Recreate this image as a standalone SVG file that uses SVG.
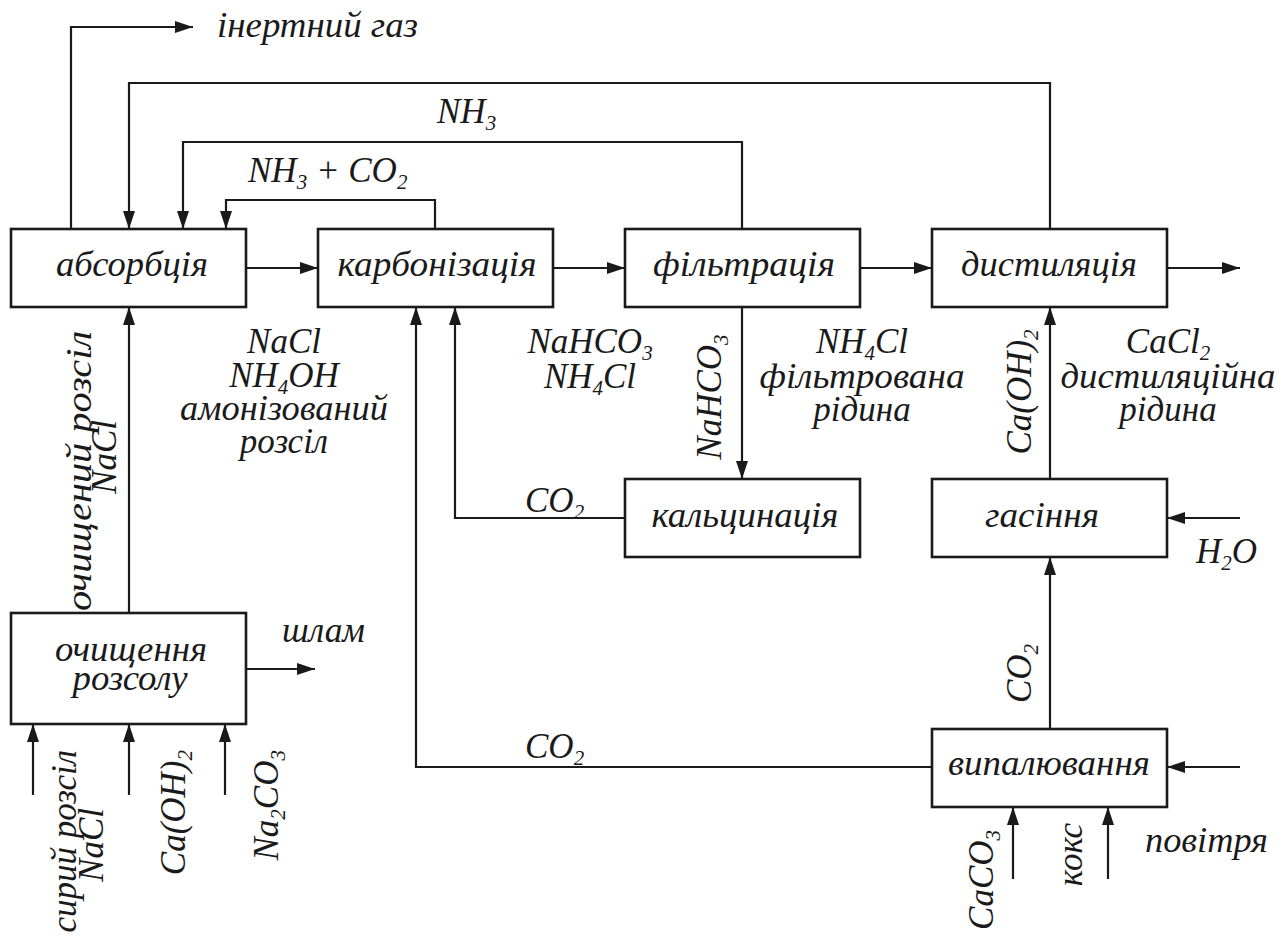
<svg xmlns="http://www.w3.org/2000/svg" width="1280" height="940" viewBox="0 0 1280 940">
<defs>
<style>
.box{fill:#fff;stroke:#1a1a1a;stroke-width:2.6}
.ln{fill:none;stroke:#1a1a1a;stroke-width:2.2}
.ar{marker-end:url(#ah)}
.m{text-anchor:middle}
.e{text-anchor:end}
.s{font-size:21px}
</style>
<marker id="ah" markerUnits="userSpaceOnUse" markerWidth="18" markerHeight="12" refX="18" refY="6" orient="auto" overflow="visible">
<path d="M0,0 L18,6 L0,12 Z" fill="#1a1a1a"/>
</marker>
</defs>
<rect width="1280" height="940" fill="#fff"/>

<g id="connectors">
<path class="ln ar" d="M71,229 V27 H193"/>
<path class="ln ar" d="M1050,229 V83 H129 V229"/>
<path class="ln ar" d="M742,229 V142 H183 V229"/>
<path class="ln ar" d="M435,229 V200 H226 V229"/>
<path class="ln ar" d="M246,268 H318"/>
<path class="ln ar" d="M553,268 H625"/>
<path class="ln ar" d="M860,268 H932"/>
<path class="ln ar" d="M1167,268 H1240"/>
<path class="ln ar" d="M129,613 V307"/>
<path class="ln ar" d="M932,767 H416 V307"/>
<path class="ln ar" d="M625,518 H455 V307"/>
<path class="ln ar" d="M742,307 V479"/>
<path class="ln ar" d="M1050,479 V307"/>
<path class="ln ar" d="M1240,518 H1167"/>
<path class="ln ar" d="M1050,729 V557"/>
<path class="ln ar" d="M1240,767 H1167"/>
<path class="ln ar" d="M1013,879 V807"/>
<path class="ln ar" d="M1108,879 V807"/>
<path class="ln ar" d="M246,669 H315"/>
<path class="ln ar" d="M33,795 V724"/>
<path class="ln ar" d="M129,795 V724"/>
<path class="ln ar" d="M225,795 V724"/>
</g>

<g id="labels" font-style="italic" font-size="35" fill="#1a1a1a">
<text font-family="Liberation Serif" font-style="italic" font-size="35" x="217" y="37" textLength="201" lengthAdjust="spacingAndGlyphs">інертний газ</text>
<text font-family="Liberation Serif" font-style="italic" font-size="35" x="437" y="123">NH<tspan class="s" dy="7">3</tspan></text>
<text font-family="Liberation Serif" font-style="italic" font-size="35" x="248" y="182">NH<tspan class="s" dy="7">3</tspan><tspan dy="-7"> + CO</tspan><tspan class="s" dy="7">2</tspan></text>
<text font-family="Liberation Serif" font-style="italic" font-size="35" class="m" x="284" y="353">NaCl</text>
<text font-family="Liberation Serif" font-style="italic" font-size="35" class="m" x="284" y="387">NH<tspan class="s" dy="7">4</tspan><tspan dy="-7">OH</tspan></text>
<text font-family="Liberation Serif" font-style="italic" font-size="35" class="m" x="284" y="420" textLength="208" lengthAdjust="spacingAndGlyphs">амонізований</text>
<text font-family="Liberation Serif" font-style="italic" font-size="35" class="m" x="284" y="453">розсіл</text>
<text font-family="Liberation Serif" font-style="italic" font-size="35" class="m" x="590" y="353">NaHCO<tspan class="s" dy="7">3</tspan></text>
<text font-family="Liberation Serif" font-style="italic" font-size="35" class="m" x="590" y="388">NH<tspan class="s" dy="7">4</tspan><tspan dy="-7">Cl</tspan></text>
<text font-family="Liberation Serif" font-style="italic" font-size="35" class="m" x="862" y="353">NH<tspan class="s" dy="7">4</tspan><tspan dy="-7">Cl</tspan></text>
<text font-family="Liberation Serif" font-style="italic" font-size="35" class="m" x="862" y="388" textLength="205" lengthAdjust="spacingAndGlyphs">фільтрована</text>
<text font-family="Liberation Serif" font-style="italic" font-size="35" class="m" x="862" y="421">рідина</text>
<text font-family="Liberation Serif" font-style="italic" font-size="35" class="m" x="1168" y="353">CaCl<tspan class="s" dy="7">2</tspan></text>
<text font-family="Liberation Serif" font-style="italic" font-size="35" class="m" x="1168" y="388" textLength="215" lengthAdjust="spacingAndGlyphs">дистиляційна</text>
<text font-family="Liberation Serif" font-style="italic" font-size="35" class="m" x="1168" y="421">рідина</text>
<text font-family="Liberation Serif" font-style="italic" font-size="35" x="525" y="512">CO<tspan class="s" dy="7">2</tspan></text>
<text font-family="Liberation Serif" font-style="italic" font-size="35" x="525" y="758">CO<tspan class="s" dy="7">2</tspan></text>
<text font-family="Liberation Serif" font-style="italic" font-size="35" x="282" y="642" textLength="83" lengthAdjust="spacingAndGlyphs">шлам</text>
<text font-family="Liberation Serif" font-style="italic" font-size="35" x="1196" y="563">H<tspan class="s" dy="7">2</tspan><tspan dy="-7">O</tspan></text>
<text font-family="Liberation Serif" font-style="italic" font-size="35" x="1145" y="852" textLength="123" lengthAdjust="spacingAndGlyphs">повітря</text>
<text font-family="Liberation Serif" font-style="italic" font-size="35" class="m" transform="translate(91,471) rotate(-90)" textLength="280" lengthAdjust="spacingAndGlyphs">очищений розсіл</text>
<text font-family="Liberation Serif" font-style="italic" font-size="35" class="m" transform="translate(116,457) rotate(-90)">NaCl</text>
<text font-family="Liberation Serif" font-style="italic" font-size="35" class="m" transform="translate(721,397) rotate(-90)">NaHCO<tspan class="s" dy="7">3</tspan></text>
<text font-family="Liberation Serif" font-style="italic" font-size="35" class="m" transform="translate(1031,392) rotate(-90)">Ca(OH)<tspan class="s" dy="7">2</tspan></text>
<text font-family="Liberation Serif" font-style="italic" font-size="35" transform="translate(1031,703) rotate(-90)">CO<tspan class="s" dy="7">2</tspan></text>
<text font-family="Liberation Serif" font-style="italic" font-size="35" class="e" transform="translate(76,750) rotate(-90)">сирий розсіл</text>
<text font-family="Liberation Serif" font-style="italic" font-size="35" class="m" transform="translate(103,845) rotate(-90)">NaCl</text>
<text font-family="Liberation Serif" font-style="italic" font-size="35" class="e" transform="translate(185,750) rotate(-90)">Ca(OH)<tspan class="s" dy="7">2</tspan></text>
<text font-family="Liberation Serif" font-style="italic" font-size="35" class="e" transform="translate(278,750) rotate(-90)">Na<tspan class="s" dy="7">2</tspan><tspan dy="-7">CO</tspan><tspan class="s" dy="7">3</tspan></text>
<text font-family="Liberation Serif" font-style="italic" font-size="35" class="e" transform="translate(993,830) rotate(-90)">CaCO<tspan class="s" dy="7">3</tspan></text>
<text font-family="Liberation Serif" font-style="italic" font-size="35" class="e" transform="translate(1082,823) rotate(-90)">кокс</text>
</g>

<g font-style="italic" font-size="35" fill="#1a1a1a">
<g id="absorbtsiia"><rect class="box" x="11" y="229" width="235" height="78"/><text font-family="Liberation Serif" font-style="italic" font-size="35" class="m" x="132" y="276" textLength="152" lengthAdjust="spacingAndGlyphs">абсорбція</text></g>
<g id="karbonizatsiia"><rect class="box" x="318" y="229" width="235" height="78"/><text font-family="Liberation Serif" font-style="italic" font-size="35" class="m" x="437" y="276" textLength="199" lengthAdjust="spacingAndGlyphs">карбонізація</text></g>
<g id="filtratsiia"><rect class="box" x="625" y="229" width="235" height="78"/><text font-family="Liberation Serif" font-style="italic" font-size="35" class="m" x="744" y="276" textLength="182" lengthAdjust="spacingAndGlyphs">фільтрація</text></g>
<g id="dystyliatsiia"><rect class="box" x="932" y="229" width="235" height="78"/><text font-family="Liberation Serif" font-style="italic" font-size="35" class="m" x="1049" y="276" textLength="176" lengthAdjust="spacingAndGlyphs">дистиляція</text></g>
<g id="kaltsynatsiia"><rect class="box" x="625" y="479" width="235" height="78"/><text font-family="Liberation Serif" font-style="italic" font-size="35" class="m" x="745" y="527" textLength="187" lengthAdjust="spacingAndGlyphs">кальцинація</text></g>
<g id="hasinnia"><rect class="box" x="932" y="479" width="235" height="78"/><text font-family="Liberation Serif" font-style="italic" font-size="35" class="m" x="1042" y="527" textLength="114" lengthAdjust="spacingAndGlyphs">гасіння</text></g>
<g id="ochyshchennia"><rect class="box" x="11" y="613" width="235" height="111"/><text font-family="Liberation Serif" font-style="italic" font-size="35" class="m" x="131" y="661" textLength="152" lengthAdjust="spacingAndGlyphs">очищення</text><text font-family="Liberation Serif" font-style="italic" font-size="35" class="m" x="130" y="690" textLength="115" lengthAdjust="spacingAndGlyphs">розсолу</text></g>
<g id="vypaliuvannia"><rect class="box" x="932" y="729" width="235" height="78"/><text font-family="Liberation Serif" font-style="italic" font-size="35" class="m" x="1049" y="775" textLength="202" lengthAdjust="spacingAndGlyphs">випалювання</text></g>
</g>
</svg>
